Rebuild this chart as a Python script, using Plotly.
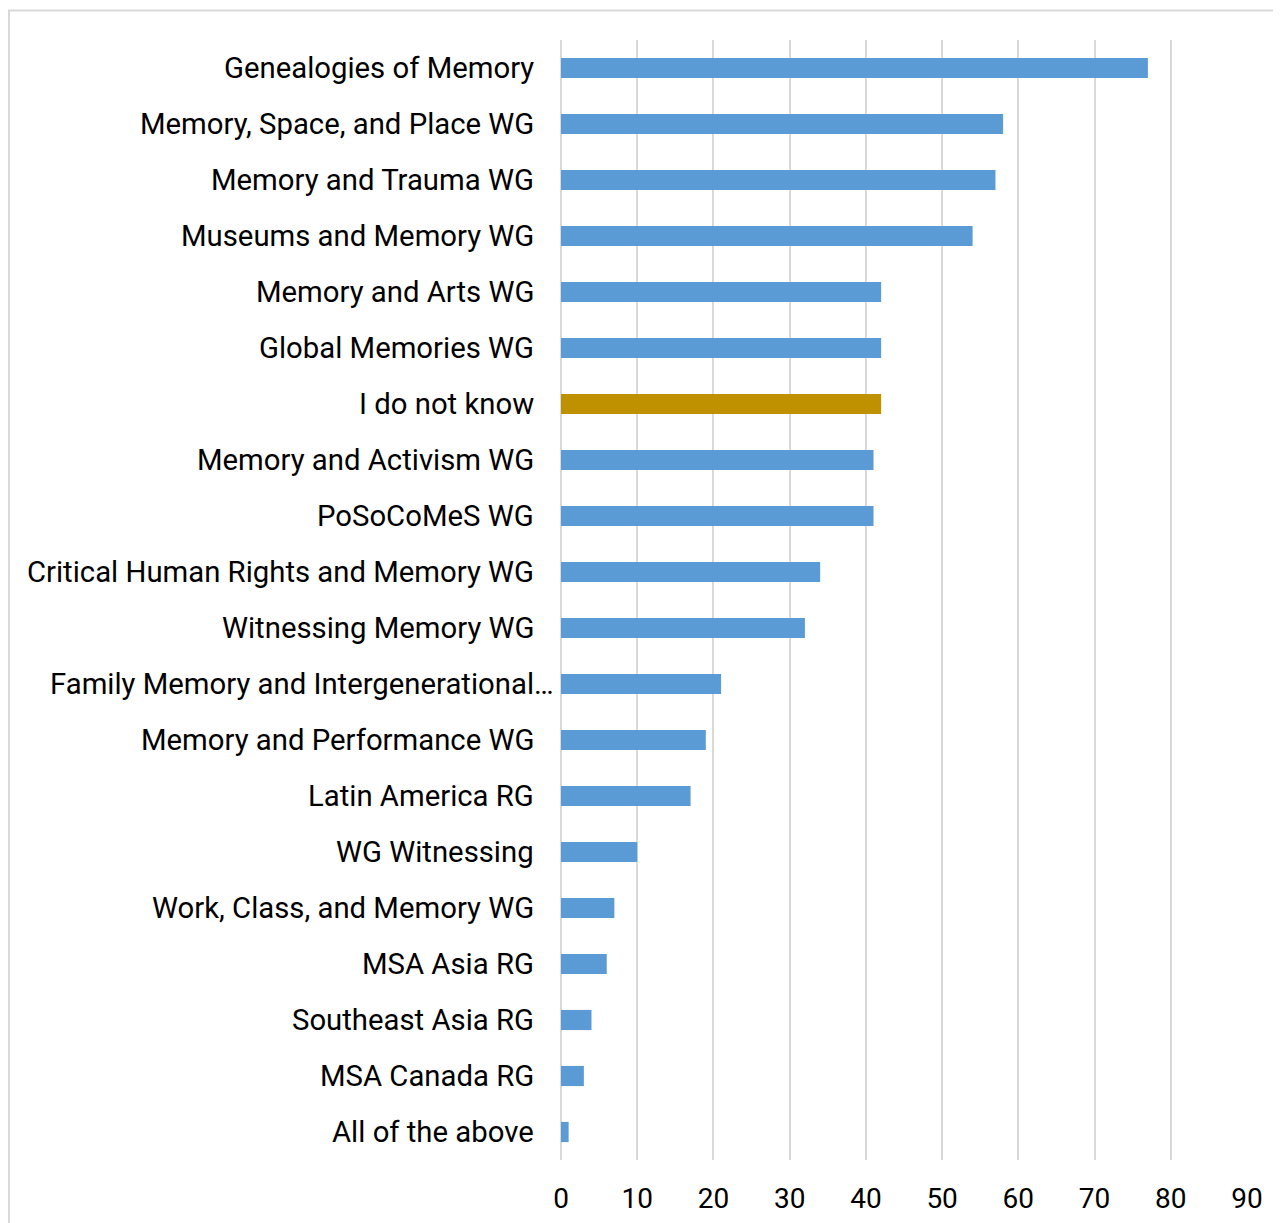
import plotly.graph_objects as go

# survey answers, top to bottom as shown
groups = [
    "Genealogies of Memory",
    "Memory, Space, and Place WG",
    "Memory and Trauma WG",
    "Museums and Memory WG",
    "Memory and Arts WG",
    "Global Memories WG",
    "I do not know",
    "Memory and Activism WG",
    "PoSoCoMeS WG",
    "Critical Human Rights and Memory WG",
    "Witnessing Memory WG",
    "Family Memory and Intergenerational…",
    "Memory and Performance WG",
    "Latin America RG",
    "WG Witnessing",
    "Work, Class, and Memory WG",
    "MSA Asia RG",
    "Southeast Asia RG",
    "MSA Canada RG",
    "All of the above",
]
counts = [77, 58, 57, 54, 42, 42, 42, 41, 41, 34, 32, 21, 19, 17, 10, 7, 6, 4, 3, 1]

x_ticks = list(range(0, 91, 10))

BLUE = "#5B9BD5"
GOLD = "#BF9000"
bar_colors = [GOLD if g == "I do not know" else BLUE for g in groups]

fig = go.Figure(go.Bar(
    x=counts, y=groups, orientation="h",
    marker=dict(color=bar_colors, line=dict(width=0)),
    width=0.36,
))

# category labels as annotations so the truncated one can run closer to the axis
for g in groups:
    fig.add_annotation(
        x=0, y=g, xref="x", yref="y", text=g, showarrow=False,
        xanchor="right", yanchor="middle",
        xshift=-5 if g.endswith("…") else -25,
        font=dict(size=29.3, color="#000000"),
    )

fig.update_yaxes(
    autorange="reversed",
    showgrid=False, showline=False, ticks="",
    showticklabels=False,
)
fig.update_xaxes(
    range=[0, 90], tickvals=x_ticks,
    showgrid=True, gridcolor="#D9D9D9", gridwidth=2,
    zeroline=True, zerolinecolor="#D9D9D9", zerolinewidth=2,
    showline=False, ticks="",
    ticklabelstandoff=19, automargin=False,
    tickfont=dict(size=28, color="#000000"),
)

# light frame around the chart area
fig.add_shape(type="rect", xref="paper", yref="paper",
              x0=-0.8047, x1=1.1, y0=-0.2, y1=1.0264,
              line=dict(color="#D9D9D9", width=2), layer="below")

# page body adds an 8px offset, so the figure is 8px smaller each way
fig.update_layout(
    width=1273, height=1215,
    font=dict(family="Roboto, Arial, sans-serif", size=28, color="#000000"),
    plot_bgcolor="white", paper_bgcolor="white",
    margin=dict(l=553, r=34, t=32, b=63),
    showlegend=False,
)

fig.write_html("out.html")
